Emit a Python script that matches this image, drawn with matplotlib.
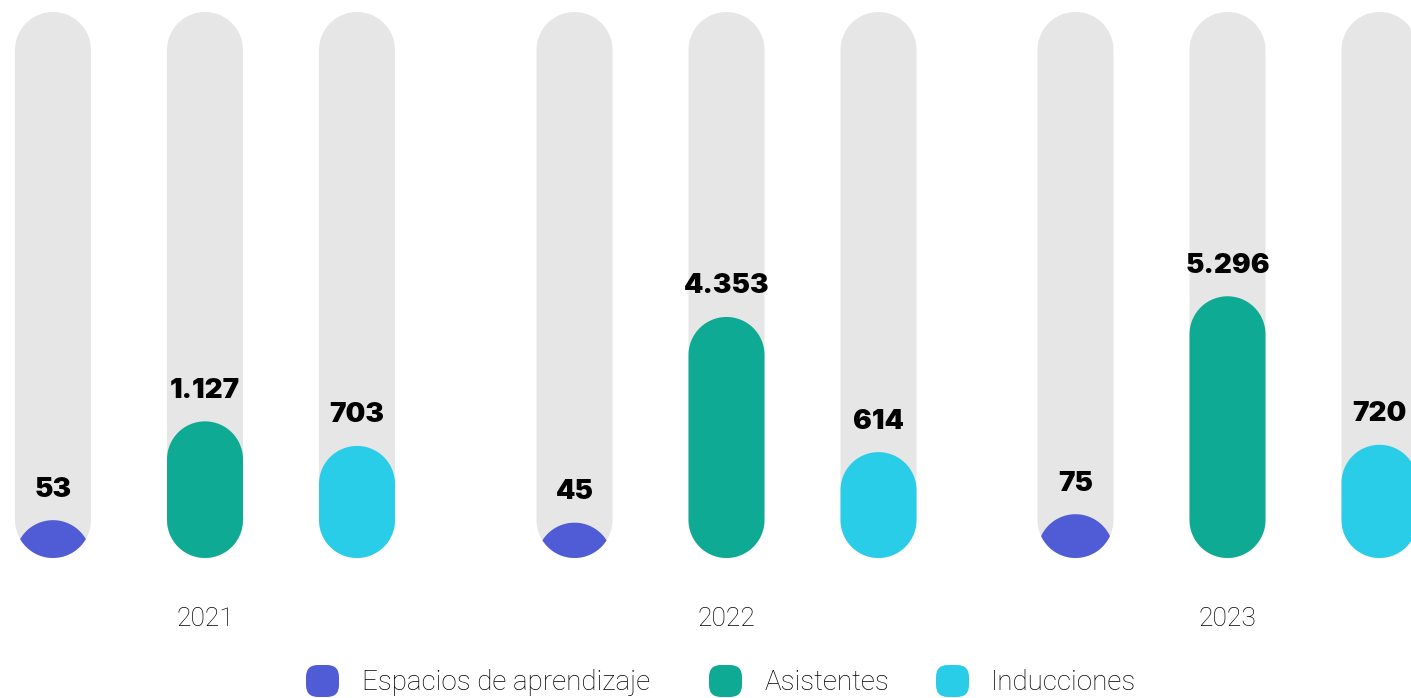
import numpy as np
import matplotlib.pyplot as plt
from matplotlib.patches import Polygon, FancyBboxPatch
from matplotlib.transforms import IdentityTransform

# Data
years = ['2021', '2022', '2023']
series_names = ['Espacios de aprendizaje', 'Asistentes', 'Inducciones']
espacios = [53, 45, 75]
asistentes = [1127, 4353, 5296]
inducciones = [703, 614, 720]

colors = ['#505CD6', '#0FAA94', '#2ACDE8']
track_color = '#E6E6E6'
track_max = 30500      # value reached by the top of the grey tracks
power = 0.42           # bar heights follow value ** power

W, H, DPI = 1411, 698, 100
bar_px = 76
group_centers = [205, 726.5, 1227.5]
offsets = [-152, 0, 152]


def pill(ax, x, top, color):
    """Draw a vertical capsule from 0 up to `top` (data units) at x.
    Short capsules collapse into a lens, like two overlapping end caps."""
    x0, y0 = ax.transData.transform((x, 0))
    _, y1 = ax.transData.transform((x, top))
    r = bar_px / 2
    c_top = y1 - r
    c_bot = y0 + r
    d = max(0.0, (c_bot - c_top) / 2)
    t0 = np.arcsin(min(d / r, 1.0))
    a_top = np.linspace(t0, np.pi - t0, 80)
    a_bot = np.linspace(np.pi + t0, 2 * np.pi - t0, 80)
    xs = np.concatenate([x0 + r * np.cos(a_top), x0 + r * np.cos(a_bot)])
    ys = np.concatenate([c_top + r * np.sin(a_top), c_bot + r * np.sin(a_bot)])
    ax.add_patch(Polygon(np.column_stack([xs, ys]), closed=True,
                         transform=IdentityTransform(), facecolor=color,
                         edgecolor='none', clip_on=False))


fig = plt.figure(figsize=(W / DPI, H / DPI), dpi=DPI)
fig.patch.set_facecolor('white')
ax = fig.add_axes([0, 140 / H, 1, 546 / H])
ax.set_yscale('function', functions=(lambda v: np.abs(v) ** power,
                                     lambda v: np.abs(v) ** (1 / power)))
ax.set_xlim(0, W)
ax.set_ylim(0, track_max)
ax.set_axis_off()

values = [espacios, asistentes, inducciones]
for g, year in enumerate(years):
    for s in range(3):
        x = group_centers[g] + offsets[s]
        v = values[s][g]
        pill(ax, x, track_max, track_color)
        pill(ax, x, v, colors[s])
        ax.annotate(f'{v:,}'.replace(',', '.'), xy=(x, v), xytext=(0, 17),
                    textcoords='offset points', ha='center', va='baseline',
                    fontsize=20, fontweight='black', family='Inter',
                    color='black')
    ax.annotate(year, xy=(group_centers[g], 0), xytext=(0, -44),
                textcoords='offset points', ha='center', va='center',
                fontsize=19, fontweight='light', family='Roboto',
                color='black')

# Legend
legend_marker_x = [306, 709, 936]
legend_text_x = [362, 765, 991]
for s in range(3):
    box = FancyBboxPatch((legend_marker_x[s], 1), 33, 32,
                         boxstyle='round,pad=0,rounding_size=12',
                         transform=IdentityTransform(),
                         facecolor=colors[s], edgecolor='none')
    fig.add_artist(box)
    fig.text(legend_text_x[s] / W, 15 / H, series_names[s],
             ha='left', va='center', fontsize=20, fontweight='light',
             family='Roboto', color='black')

fig.savefig('out.png', dpi=DPI, facecolor='white')
